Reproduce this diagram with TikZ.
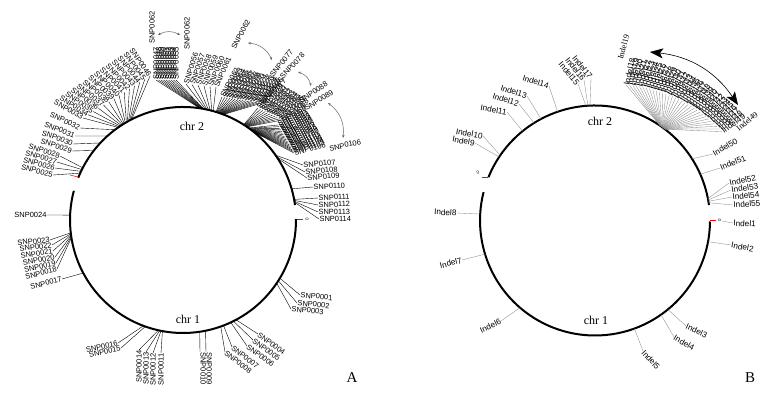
\documentclass[tikz,border=0pt]{standalone}
\usepackage{fontspec}
\setmainfont{Liberation Serif}
\setsansfont{Liberation Sans}
\usetikzlibrary{calc,arrows.meta}
\newcommand{\snpname}[1]{SNP\ifnum#1<10 000\else\ifnum#1<100 00\else 0\fi\fi#1}

\begin{document}
\begin{tikzpicture}[x=1pt, y=1pt,
  snp/.style={font=\sffamily\fontsize{7.5}{8}\selectfont, inner sep=0.3pt},
  indel/.style={font=\sffamily\fontsize{8.2}{9}\selectfont, inner sep=0.3pt},
  lead/.style={line width=0.4pt},
  leadB/.style={line width=0.35pt, black!45},
  chrline/.style={line width=2pt},
  tick/.style={red, line width=0.6pt},
  zero/.style={font=\sffamily\fontsize{4.5}{5}\selectfont, inner sep=0.3pt, rotate=90},
  chrlbl/.style={font=\fontsize{12}{12}\selectfont},
  rng/.style={black!60, line width=0.5pt, {Stealth[length=3pt,width=2.4pt]}-{Stealth[length=3pt,width=2.4pt]}},
  bigrng/.style={line width=0.6pt, {Stealth[length=13pt,width=10pt,inset=3pt]}-{Stealth[length=13pt,width=10pt,inset=3pt]}}]
  \useasboundingbox (0,0) rectangle (779,397);

  % ---------------- panel A ----------------
  \coordinate (cA) at (183,177);
  \draw[chrline] ($(cA)+(0.5:113)$) arc[start angle=0.5, end angle=-195, radius=113];
  \draw[chrline] ($(cA)+(158:113)$) arc[start angle=158, end angle=7.6, radius=113];
  \draw[tick] (297,178) -- (303,178);
  \draw[tick] (70,222) -- (78,220);
  \node[zero] (oA) at (307,178) {0};
  \node[chrlbl] (chrA1) at (188,78) {chr 1};
  \node[chrlbl] (chrA2) at (192,271) {chr 2};

  % single markers
  \foreach \i/\ba/\px/\py/\rt/\an in {
    0001/-31/300/102/-5/west, 0002/-32.5/297/94/-5/west, 0003/-34/291/88/-5/west,
    0004/-62/258/63/-36/west, 0005/-63.5/253/57/-36/west, 0006/-65/247/51/-36/west,
    0007/-69/232/50/-38/west, 0008/-70.5/225/45/-38/west,
    0009/-78.5/206/45/-90/south west, 0010/-81.5/200/45/-90/south west,
    0011/-100.5/161/44/90/east, 0012/-101.2/153/44/90/east,
    0013/-101.9/146/45/90/east, 0014/-102.6/139/47/90/east,
    0015/-109.5/121/49/12/east, 0016/-110.5/118/54/12/east,
    0017/-152/62/118/15/east,
    0018/-171/57/128/15/east, 0019/-171.5/56/134/13/east, 0020/-172/55/140/11/east,
    0021/-172.5/53/146/9/east, 0022/-173/52/152/7/east, 0023/-173.5/50/157/5/east,
    0024/177.5/47/182/0/east,
    0025/155.5/53/222/-15/east, 0026/154.5/55/229/-15/east,
    0027/153.5/57/235/-16/east, 0028/152.5/60/241/-17/east,
    0029/142/72/246/-18/east, 0030/137/73/253/-20/east,
    0031/132/75/261/-22/east, 0032/127/80/269/-25/east,
    0107/35/303/232/5/west, 0108/34/305/225/5/west, 0109/33/307/219/5/west,
    0110/16/313/210/3/west,
    0111/10.5/318/199/3/west, 0112/10/318/192/2/west,
    0113/9.5/318/185/1/west, 0114/9/319/178/0/west}{
    \coordinate (b\i) at ($(cA)+(\ba:113)$);
    \node[snp, rotate=\rt, anchor=\an] (s\i) at (\px,\py) {SNP\i};
    \draw[lead] (b\i) -- (s\i.\an);
  }

  % fan SNP0033 - SNP0046
  \foreach \k in {0,...,13}{
    \pgfmathtruncatemacro\num{33+\k}
    \pgfmathsetmacro\ba{125-8*\k/13}
    \pgfmathsetmacro\px{83+67*\k/13}
    \pgfmathsetmacro\py{279+42*\k/13}
    \pgfmathsetmacro\rt{-30-25*\k/13}
    \coordinate (b\num) at ($(cA)+(\ba:113)$);
    \node[snp, rotate=\rt, anchor=east] (s\num) at (\px,\py) {\snpname{\num}};
    \draw[lead] (b\num) -- (s\num.east);
  }

  % block SNP0047 - SNP0055
  \foreach \k in {0,...,8}{
    \pgfmathtruncatemacro\num{47+\k}
    \pgfmathsetmacro\ba{81.5-2*\k/8}
    \pgfmathsetmacro\px{156+20*\k/8}
    \coordinate (b\num) at ($(cA)+(\ba:113)$);
    \node[snp, rotate=90, anchor=west] (s\num) at (\px,317) {\snpname{\num}};
    \draw[lead] (b\num) -- (s\num.west);
  }

  % SNP0056 - SNP0061
  \foreach \k in {0,...,5}{
    \pgfmathtruncatemacro\num{56+\k}
    \pgfmathsetmacro\ba{78.5-0.8*\k}
    \pgfmathsetmacro\px{186+6*\k}
    \pgfmathsetmacro\py{313-0.6*\k}
    \pgfmathsetmacro\rt{72-1.2*\k}
    \coordinate (b\num) at ($(cA)+(\ba:113)$);
    \node[snp, rotate=\rt, anchor=west] (s\num) at (\px,\py) {\snpname{\num}};
    \draw[lead] (b\num) -- (s\num.west);
  }

  % SNP0062 - SNP0077
  \foreach \k in {0,...,15}{
    \pgfmathtruncatemacro\num{62+\k}
    \pgfmathsetmacro\ba{73-4*\k/15}
    \pgfmathsetmacro\px{222+40*\k/15}
    \pgfmathsetmacro\py{300-6*\k/15}
    \pgfmathsetmacro\rt{62-17*\k/15}
    \coordinate (b\num) at ($(cA)+(\ba:113)$);
    \node[snp, rotate=\rt, anchor=west] (s\num) at (\px,\py) {\snpname{\num}};
    \draw[lead] (b\num) -- (s\num.west);
  }

  % SNP0078 - SNP0088
  \foreach \k in {0,...,10}{
    \pgfmathtruncatemacro\num{78+\k}
    \pgfmathsetmacro\ba{57.5-0.2*\k}
    \pgfmathsetmacro\px{258+2.4*\k}
    \pgfmathsetmacro\py{289-1.2*\k}
    \pgfmathsetmacro\rt{50-1.2*\k}
    \coordinate (b\num) at ($(cA)+(\ba:113)$);
    \node[snp, rotate=\rt, anchor=west] (s\num) at (\px,\py) {\snpname{\num}};
    \draw[lead] (b\num) -- (s\num.west);
  }

  % SNP0089 - SNP0106
  \foreach \k in {0,...,17}{
    \pgfmathtruncatemacro\num{89+\k}
    \pgfmathsetmacro\ba{54.5-3.5*\k/17}
    \pgfmathsetmacro\px{278+16*\k/17}
    \pgfmathsetmacro\py{272-28*\k/17}
    \pgfmathsetmacro\rt{35-20*\k/17}
    \coordinate (b\num) at ($(cA)+(\ba:113)$);
    \node[snp, rotate=\rt, anchor=west] (s\num) at (\px,\py) {\snpname{\num}};
    \draw[lead] (b\num) -- (s\num.west);
  }

  % range labels and arrows
  \node[snp, rotate=90, anchor=west] (h1) at (152,353) {SNP0062};
  \node[snp, rotate=90, anchor=west] (h2) at (187,347) {SNP0062};
  \node[snp, rotate=62, anchor=west] (h3) at (233,348) {SNP0062};
  \node[snp, rotate=51, anchor=west] (h4) at (271,321) {SNP0077};
  \node[snp, rotate=47, anchor=west] (h5) at (281,319) {SNP0078};
  \node[snp, rotate=35, anchor=west] (h6) at (300,295) {SNP0088};
  \node[snp, rotate=32, anchor=west] (h7) at (305,288) {SNP0089};
  \node[snp, rotate=13, anchor=west] (h8) at (329,248) {SNP0106};
  \coordinate (r1a) at (158,362); \coordinate (r1b) at (180,362);
  \coordinate (r2a) at (248,354); \coordinate (r2b) at (272,337);
  \coordinate (r3a) at (298,325); \coordinate (r3b) at (311,311);
  \coordinate (r4a) at (328,294); \coordinate (r4b) at (343,259);
  \draw[rng] (r1a) to[bend left=30] (r1b);
  \draw[rng] (r2a) to[bend left=30] (r2b);
  \draw[rng] (r3a) to[bend left=30] (r3b);
  \draw[rng] (r4a) to[bend left=30] (r4b);

  \node[font=\fontsize{15}{15}\selectfont] (pA) at (352,19) {A};

  % ---------------- panel B ----------------
  \coordinate (cB) at (595,176.5);
  \draw[chrline] ($(cB)+(-0.5:115)$) arc[start angle=-0.5, end angle=-194.3, radius=115];
  \draw[chrline] ($(cB)+(157.9:115)$) arc[start angle=157.9, end angle=7.7, radius=115];
  \draw[tick] (482,220) -- (488,220);
  \draw[tick] (710,176.5) -- (716,176.5);
  \node[zero, rotate=-60] (oB1) at (478,224) {0};
  \node[zero] (oB2) at (719.5,176.5) {0};
  \node[chrlbl] (chrB1) at (596,77) {chr 1};
  \node[chrlbl] (chrB2) at (600,276) {chr 2};

  \node[indel, anchor=west, rotate=-3] (i1) at (733,174) {Indel1};
  \draw[leadB] (oB2) -- (i1.west);

  \foreach \i/\ba/\px/\py/\rt/\an in {
    2/-10.6/731/152/-10/west, 3/-50.7/686/71/-25/west, 4/-55/674/60/-30/west,
    5/-70/643/46/-48/west, 6/229.3/501/76/25/east, 7/197/462/137/15/east,
    8/176.8/457/184/-3/east, 9/146.5/475/254/-10/east, 10/145.5/483/261/-10/east,
    11/129/507/285/-10/east, 12/122/519/293/-18/east, 13/118/527/301/-18/east,
    14/109/549/311/-18/east, 15/94.5/578/313/-50/east, 16/93.5/584/317/-52/east,
    17/92.5/591/319/-52/east, 50/32.4/713/243/30/west, 51/23.7/720/229/22/west,
    52/11/729/214/12/west, 53/10.3/731/207/9/west, 54/9.6/732/200/6/west,
    55/8.9/733/192/4/west}{
    \coordinate (q\i) at ($(cB)+(\ba:115)$);
    \node[indel, rotate=\rt, anchor=\an] (i\i) at (\px,\py) {Indel\i};
    \draw[leadB] (q\i) -- (i\i.\an);
  }

  % band Indel18 - Indel49
  \foreach \k in {0,...,31}{
    \pgfmathtruncatemacro\num{18+\k}
    \pgfmathsetmacro\ph{77-42*\k/31}
    \pgfmathsetmacro\rr{139+16*\k/31}
    \pgfmathsetmacro\ba{55.5-3*\k/31}
    \coordinate (q\num) at ($(cB)+(\ba:115)$);
    \node[indel, rotate=\ph, anchor=west] (i\num) at ($(cB)+(\ph:\rr)$) {Indel\num};
    \draw[leadB] (q\num) -- (i\num.west);
  }

  \node[font=\fontsize{8.2}{9}\selectfont, rotate=75] (g1) at (623.5,350) {Indel19};
  \node[font=\fontsize{8.2}{9}\selectfont, rotate=40] (g2) at (747,275.5) {Indel49};
  \coordinate (ra) at (650,345); \coordinate (rb) at (738,292);
  \draw[bigrng] (ra) to[bend left=25] (rb);

  \node[font=\fontsize{15}{15}\selectfont] (pB) at (750,19) {B};
\end{tikzpicture}
\end{document}
